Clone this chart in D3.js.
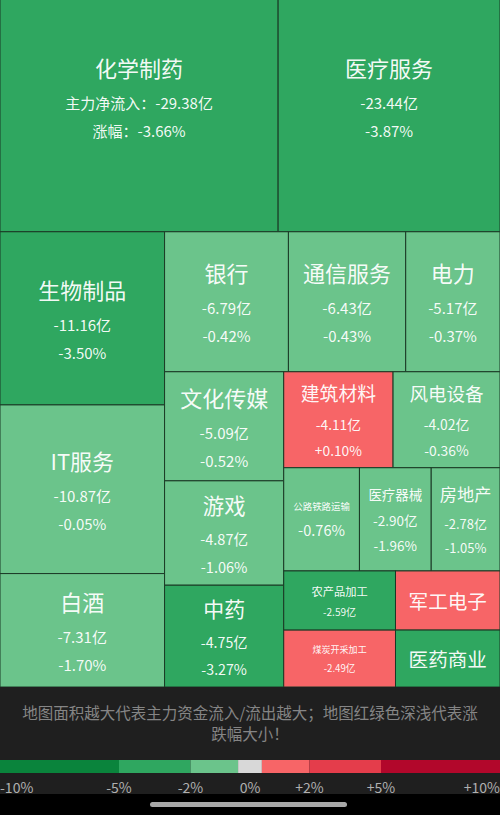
<!DOCTYPE html>
<html>
<head>
<meta charset="utf-8">
<script src="https://cdn.jsdelivr.net/npm/d3@7"></script>
<style>
  body { margin: 0; background: #000; }
  svg { display: block; font-family: "Noto Sans CJK SC", "Noto Sans", sans-serif; }
</style>
</head>
<body>
<svg id="chart" width="500" height="815"></svg>
<script>
// sector names, main net flow (亿), change (%)
const sectors = ['化学制药', '医疗服务', '生物制品', 'IT服务', '白酒', '银行', '通信服务', '电力',
  '文化传媒', '游戏', '中药', '建筑材料', '风电设备', '公路铁路运输', '医疗器械', '房地产',
  '农产品加工', '煤炭开采加工', '军工电子', '医药商业'];
const netFlow = [-29.38, -23.44, -11.16, -10.87, -7.31, -6.79, -6.43, -5.17,
  -5.09, -4.87, -4.75, -4.11, -4.02, -3.06, -2.90, -2.78,
  -2.59, -2.49, -2.42, -2.33];
const pctChange = [-3.66, -3.87, -3.50, -0.05, -1.70, -0.42, -0.43, -0.37,
  -0.52, -1.06, -3.27, 0.10, -0.36, -0.76, -1.96, -1.05,
  -2.50, 0.50, 0.80, -2.40];
// which value lines the app prints in each tile
const showFlow = [1, 1, 1, 1, 1, 1, 1, 1, 1, 1, 1, 1, 1, 0, 1, 1, 1, 1, 0, 0];
const showPct  = [1, 1, 1, 1, 1, 1, 1, 1, 1, 1, 1, 1, 1, 1, 1, 1, 0, 0, 0, 0];

const legendBreaks = [-10, -5, -2, -0.4, 0.4, 2, 5, 10];
const legendTicks = [-10, -5, -2, 0, 2, 5, 10];
const legendLabels = ['-10%', '-5%', '-2%', '0%', '+2%', '+5%', '+10%'];
const note = '地图面积越大代表主力资金流入/流出越大；地图红绿色深浅代表涨跌幅大小！';

const W = 500;
const mapTop = -38, mapBottom = 687;
const palette = ['#0a843c', '#2fa760', '#6bc48b', '#d8d8d8', '#f76567', '#e43d4b', '#b2072b'];

const color = d3.scaleThreshold()
  .domain([-5, -2, 0, 1e-9, 2, 5])
  .range(palette);

const fmtPct = v => (v > 0 ? '+' : '') + v.toFixed(2) + '%';

const svg = d3.select('#chart');

// treemap
const root = d3.hierarchy({ children: sectors.map((name, i) => ({ name, i, value: Math.abs(netFlow[i]) })) })
  .sum(d => d.value)
  .sort((a, b) => b.value - a.value);

d3.treemap()
  .tile(d3.treemapSquarify.ratio(1))
  .size([W, mapBottom - mapTop])(root);

const map = svg.append('g').attr('transform', `translate(0,${mapTop})`);

const cell = map.selectAll('g')
  .data(root.leaves())
  .join('g')
  .attr('transform', d => `translate(${d.x0},${d.y0})`);

cell.append('rect')
  .attr('width', d => d.x1 - d.x0)
  .attr('height', d => d.y1 - d.y0)
  .attr('fill', d => color(pctChange[d.data.i]))
  .attr('stroke', '#1b3a26')
  .attr('stroke-width', 1);

cell.each(function(d) {
  const i = d.data.i;
  const w = d.x1 - d.x0, h = d.y1 - d.y0;
  const g = d3.select(this);

  const lines = [];
  if (showFlow[i]) lines.push((i === 0 ? '主力净流入：' : '') + netFlow[i].toFixed(2) + '亿');
  if (showPct[i]) lines.push((i === 0 ? '涨幅：' : '') + fmtPct(pctChange[i]));

  const title = g.append('text').text(sectors[i]).attr('font-size', 22);
  let T = Math.min(22, 22 * 0.75 * w / title.node().getComputedTextLength());

  const texts = lines.map(s => g.append('text').text(s).attr('font-size', 15));
  let L = 15;
  texts.forEach(t => { L = Math.min(L, 15 * 0.62 * w / t.node().getComputedTextLength()); });

  let bh = T * 1.2;
  if (lines.length) {
    const s = Math.min(1, h / 88);
    T *= s; L *= s;
    const block = (t, l) => 0.6 * t + 0.9 * t + 1.05 * l + (lines.length - 1) * 1.87 * l + 0.6 * l;
    const k = Math.min(1, 0.8 * h / block(T, L));
    T *= k; L *= k;
    bh = block(T, L);
  }

  const titleCy = h / 2 - bh / 2 + 0.6 * T;
  title
    .attr('font-size', T)
    .attr('x', w / 2)
    .attr('y', titleCy)
    .attr('text-anchor', 'middle')
    .attr('dominant-baseline', 'central')
    .attr('fill', '#fff')
    .attr('fill-opacity', 0.96);

  texts.forEach((t, j) => {
    t.attr('font-size', L)
      .attr('x', w / 2)
      .attr('y', titleCy + 0.9 * T + 1.05 * L + j * 1.87 * L)
      .attr('text-anchor', 'middle')
      .attr('dominant-baseline', 'central')
      .attr('fill', '#fff')
      .attr('fill-opacity', 0.94);
  });
});

// footer
svg.append('rect')
  .attr('x', 0).attr('y', mapBottom)
  .attr('width', W).attr('height', 794 - mapBottom)
  .attr('fill', '#1f1f1f');

svg.append('rect')
  .attr('x', 0).attr('y', 794)
  .attr('width', W).attr('height', 21)
  .attr('fill', '#000');

// note text, wrapped to width
const noteText = svg.append('text')
  .attr('text-anchor', 'middle')
  .attr('font-size', 15.5)
  .attr('fill', '#858585');
const chars = Array.from(note);
const wrapped = [];
let cur = '';
const probe = noteText.append('tspan');
chars.forEach(c => {
  probe.text(cur + c);
  if (probe.node().getComputedTextLength() > 462 && cur) {
    wrapped.push(cur);
    cur = c;
  } else {
    cur += c;
  }
});
wrapped.push(cur);
probe.remove();
noteText.selectAll('tspan')
  .data(wrapped)
  .join('tspan')
  .attr('x', W / 2)
  .attr('y', (d, j) => 719 + j * 21)
  .text(d => d);

// legend
const legendX = d3.scaleLinear()
  .domain(legendTicks)
  .range([0, 0.238, 0.381, 0.5, 0.619, 0.762, 1].map(f => f * W));

const legend = svg.append('g');
legend.selectAll('rect')
  .data(d3.pairs(legendBreaks))
  .join('rect')
  .attr('x', d => legendX(d[0]))
  .attr('y', 760)
  .attr('width', d => legendX(d[1]) - legendX(d[0]))
  .attr('height', 13)
  .attr('fill', (d, j) => palette[j]);

legend.selectAll('text')
  .data(legendTicks)
  .join('text')
  .attr('x', d => legendX(d))
  .attr('y', 793)
  .attr('text-anchor', (d, j) => j === 0 ? 'start' : j === legendTicks.length - 1 ? 'end' : 'middle')
  .attr('font-size', 14)
  .attr('fill', '#b0b0b0')
  .text((d, j) => legendLabels[j]);

// phone home indicator
svg.append('rect')
  .attr('x', 150).attr('y', 802)
  .attr('width', 197).attr('height', 5)
  .attr('rx', 2.5)
  .attr('fill', '#a9a9a9');
</script>
</body>
</html>
